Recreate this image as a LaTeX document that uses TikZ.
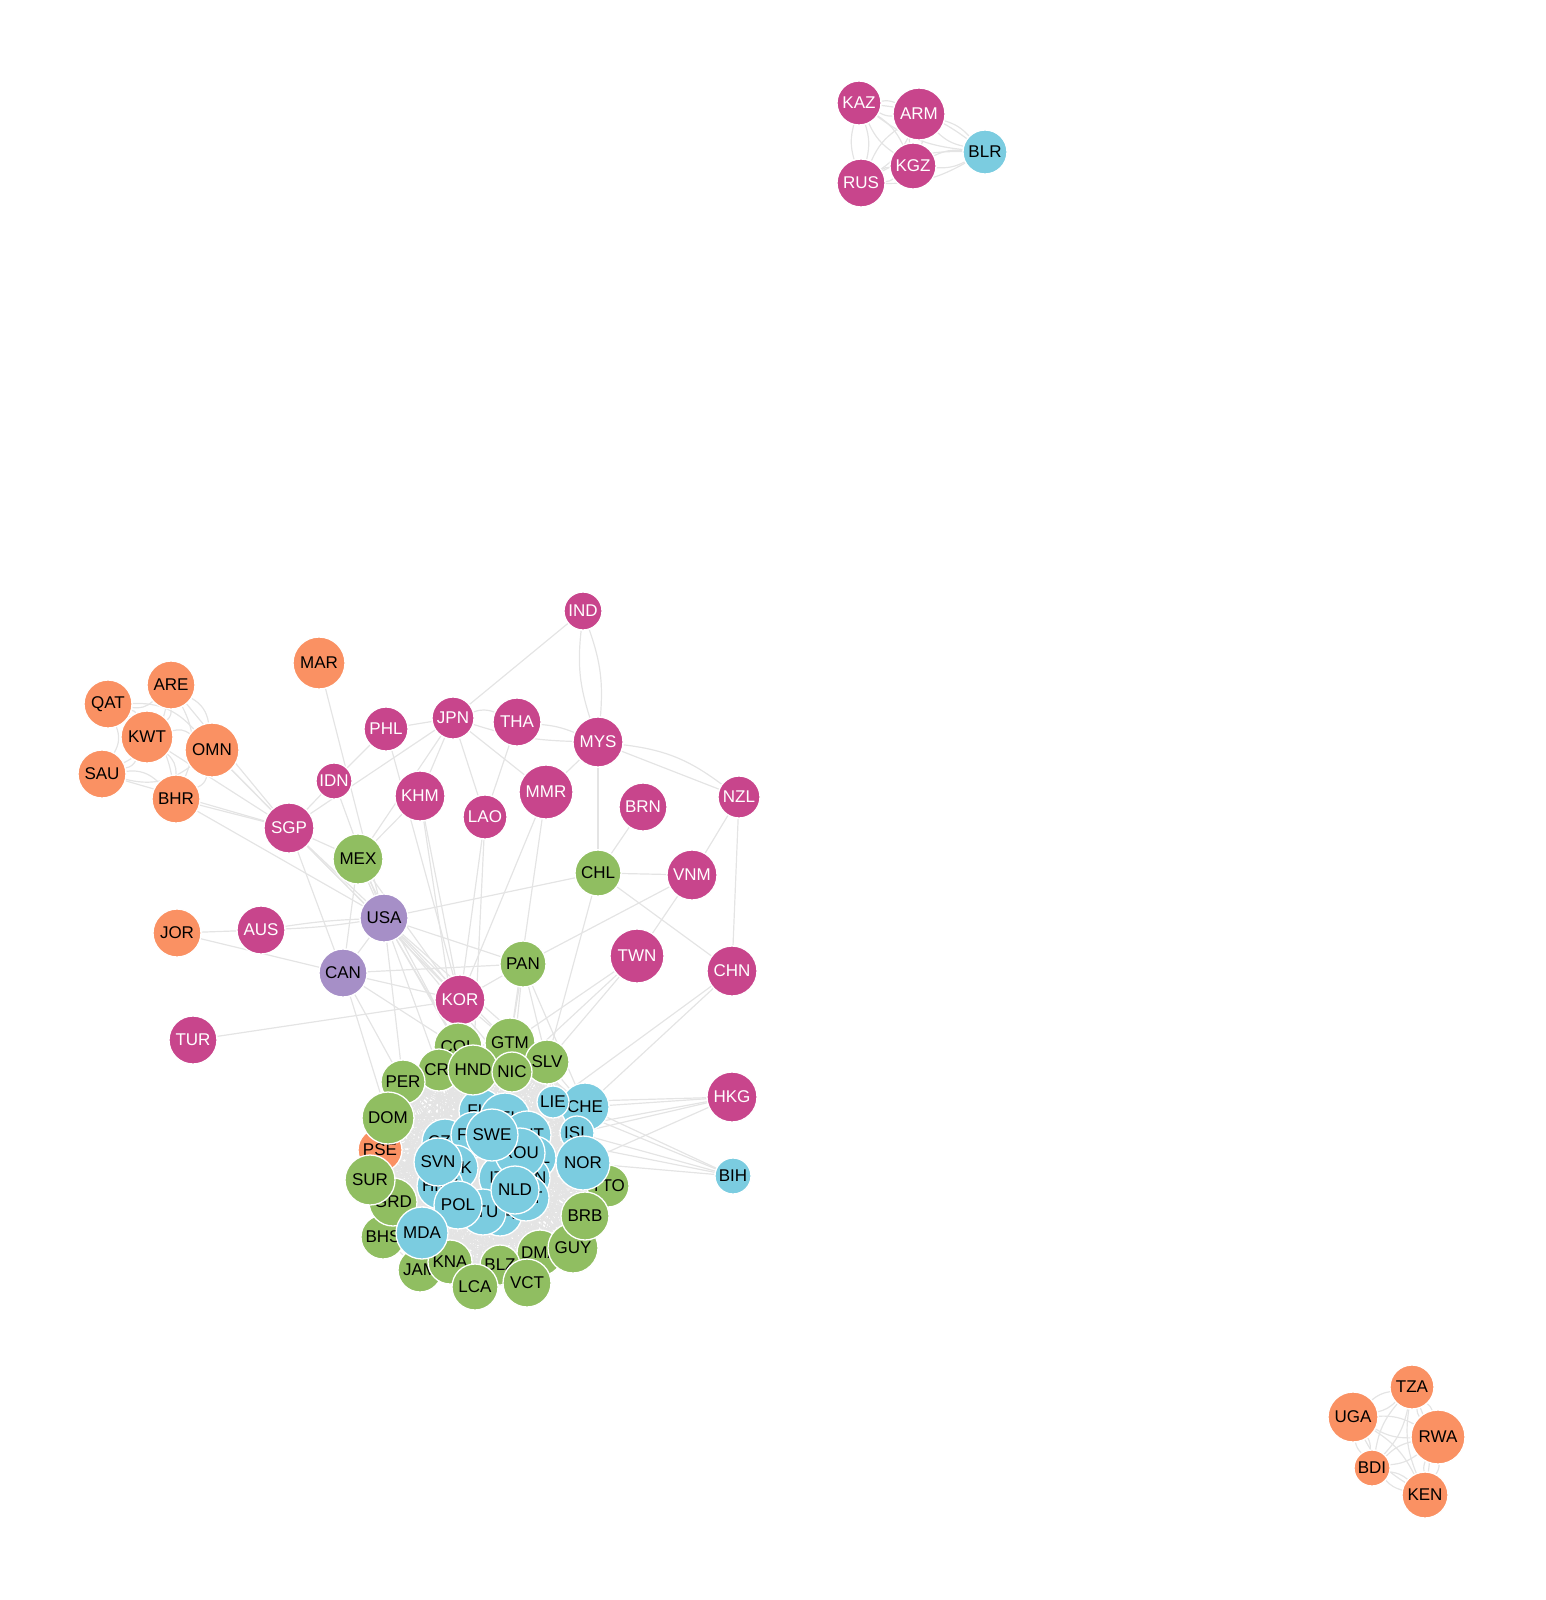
\documentclass[tikz,border=0pt]{standalone}
\usepackage{fontspec}
\setmainfont{Liberation Sans}
\usepackage{tikz}
\usetikzlibrary{backgrounds}
\usepackage{xcolor}
\definecolor{plum}{HTML}{C8458C}
\definecolor{peach}{HTML}{FA9163}
\definecolor{leaf}{HTML}{90BE61}
\definecolor{sky}{HTML}{7BCCE0}
\definecolor{lilac}{HTML}{A68FC7}
\definecolor{wire}{HTML}{E4E4E4}

\begin{document}
\begin{tikzpicture}[x=1pt, y=-1pt,
    cty/.style={circle, draw=white, line width=1.3pt, inner sep=0pt, minimum size=#1pt, font=\fontsize{17}{17}\selectfont},
    mag/.style={cty=#1, fill=plum, text=white},
    org/.style={cty=#1, fill=peach, text=black},
    grn/.style={cty=#1, fill=leaf, text=black},
    blu/.style={cty=#1, fill=sky, text=black},
    pur/.style={cty=#1, fill=lilac, text=black},
    link/.style={draw=wire, line width=1.2pt}]
\useasboundingbox (0,0) rectangle (1545,1600);

% north cluster
\node[mag=44] (KAZ) at (859,103) {KAZ};
\node[mag=52] (ARM) at (919,114) {ARM};
\node[mag=46] (KGZ) at (913,166) {KGZ};
\node[mag=48] (RUS) at (861,183) {RUS};
\node[blu=44] (BLR) at (985,152) {BLR};

% east africa
\node[org=44] (TZA) at (1412,1387) {TZA};
\node[org=50] (UGA) at (1353,1417) {UGA};
\node[org=54] (RWA) at (1438,1437) {RWA};
\node[org=36] (BDI) at (1372,1468) {BDI};
\node[org=46] (KEN) at (1425,1495) {KEN};

% gulf
\node[org=48] (ARE) at (171,685) {ARE};
\node[org=48] (QAT) at (108,704) {QAT};
\node[org=52] (KWT) at (147,737) {KWT};
\node[org=54] (OMN) at (212,750) {OMN};
\node[org=48] (SAU) at (102,774) {SAU};
\node[org=48] (BHR) at (176,799) {BHR};
\node[org=52] (MAR) at (319,663) {MAR};
\node[org=48] (JOR) at (177,933) {JOR};

% asia pacific
\node[mag=38] (IND) at (583,611) {IND};
\node[mag=42] (JPN) at (453,718) {JPN};
\node[mag=48] (THA) at (517,722) {THA};
\node[mag=50] (MYS) at (598,742) {MYS};
\node[mag=44] (PHL) at (386,729) {PHL};
\node[mag=36] (IDN) at (334,781) {IDN};
\node[mag=50] (KHM) at (420,796) {KHM};
\node[mag=44] (LAO) at (485,817) {LAO};
\node[mag=54] (MMR) at (546,792) {MMR};
\node[mag=48] (BRN) at (643,807) {BRN};
\node[mag=42] (NZL) at (739,797) {NZL};
\node[mag=50] (SGP) at (289,828) {SGP};
\node[mag=50] (VNM) at (692,875) {VNM};
\node[mag=48] (AUS) at (261,930) {AUS};
\node[mag=54] (TWN) at (637,956) {TWN};
\node[mag=50] (CHN) at (732,971) {CHN};
\node[mag=48] (TUR) at (193,1040) {TUR};
\node[mag=50] (HKG) at (732,1097) {HKG};
\node[blu=36] (BIH) at (733,1176) {BIH};

% americas
\node[grn=50] (MEX) at (358,859) {MEX};
\node[grn=46] (CHL) at (598,873) {CHL};
\node[grn=46] (PAN) at (523,964) {PAN};
\node[pur=48] (USA) at (384,918) {USA};
\node[pur=48] (CAN) at (343,973) {CAN};
\node[mag=50] (KOR) at (460,1000) {KOR};

% core, hidden ones first
\node[blu=44] (FIN) at (481,1111) {FIN};
\node[blu=50] (DEU) at (505,1118) {DEU};
\node[blu=48] (AUT) at (527,1135) {AUT};
\node[blu=46] (CZE) at (445,1142) {CZE};
\node[blu=46] (FRA) at (474,1135) {FRA};
\node[blu=44] (BEL) at (534,1158) {BEL};
\node[blu=44] (HUN) at (528,1178) {HUN};
\node[blu=44] (LVA) at (500,1214) {LVA};
\node[blu=46] (EST) at (526,1198) {EST};
\node[blu=46] (ITA) at (502,1178) {ITA};
\node[blu=46] (SVK) at (455,1168) {SVK};
\node[blu=46] (HRV) at (440,1186) {HRV};
\node[blu=46] (LTU) at (483,1212) {LTU};

\node[grn=50] (GTM) at (510,1043) {GTM};
\node[grn=44] (SLV) at (547,1062) {SLV};
\node[grn=48] (COL) at (458,1047) {COL};
\node[grn=42] (CRI) at (439,1070) {CRI};
\node[grn=50] (HND) at (473,1070) {HND};
\node[grn=40] (NIC) at (512,1072) {NIC};
\node[grn=44] (PER) at (403,1082) {PER};
\node[org=44] (PSE) at (380,1150) {PSE};
\node[grn=52] (DOM) at (388,1118) {DOM};
\node[grn=42] (TTO) at (608,1186) {TTO};
\node[grn=46] (DMA) at (540,1253) {DMA};
\node[grn=40] (BLZ) at (500,1265) {BLZ};
\node[grn=44] (JAM) at (420,1270) {JAM};
\node[grn=44] (BHS) at (383,1237) {BHS};
\node[grn=48] (GRD) at (393,1202) {GRD};
\node[grn=50] (SUR) at (370,1180) {SUR};
\node[grn=44] (KNA) at (450,1262) {KNA};
\node[grn=46] (LCA) at (475,1287) {LCA};
\node[grn=48] (VCT) at (527,1283) {VCT};
\node[grn=50] (GUY) at (573,1248) {GUY};
\node[grn=48] (BRB) at (585,1216) {BRB};

\node[blu=50] (ROU) at (520,1153) {ROU};
\node[blu=52] (SWE) at (492,1135) {SWE};
\node[blu=48] (NLD) at (515,1190) {NLD};
\node[blu=48] (SVN) at (438,1162) {SVN};
\node[blu=48] (POL) at (458,1205) {POL};
\node[blu=52] (MDA) at (422,1233) {MDA};
\node[blu=48] (CHE) at (585,1107) {CHE};
\node[blu=32] (LIE) at (553,1102) {LIE};
\node[blu=34] (ISL) at (577,1133) {ISL};
\node[blu=54] (NOR) at (583,1163) {NOR};

\begin{scope}[on background layer]
% small cliques, curved
\foreach \a/\b in {KAZ/ARM,KAZ/KGZ,KAZ/RUS,KAZ/BLR,ARM/KGZ,ARM/RUS,ARM/BLR,KGZ/RUS,KGZ/BLR,RUS/BLR,
                   TZA/UGA,TZA/RWA,TZA/BDI,TZA/KEN,UGA/RWA,UGA/BDI,UGA/KEN,RWA/BDI,RWA/KEN,BDI/KEN}
  {\draw[link] (\a) to[bend left=15] (\b); \draw[link] (\a) to[bend right=15] (\b);}
\foreach \a/\b in {ARE/QAT,ARE/KWT,ARE/OMN,ARE/SAU,ARE/BHR,QAT/KWT,QAT/OMN,QAT/SAU,QAT/BHR,
                   KWT/OMN,KWT/SAU,KWT/BHR,OMN/SAU,OMN/BHR,SAU/BHR}
  \draw[link] (\a) to[bend left=25] (\b);
% curved ties
\draw[link] (IND) to[bend left=12] (MYS);
\draw[link] (IND) to[bend right=12] (MYS);
\draw[link] (JPN) to[bend left=20] (THA);
\draw[link] (JPN) to[bend right=8] (MYS);
\draw[link] (THA) to[bend left=8] (MYS);
\draw[link] (MYS) to[bend left=15] (NZL);
\draw[link] (MYS) -- (NZL);
\draw[link] (AUS) to[bend left=3] (USA);
\draw[link] (AUS) to[bend right=3] (USA);
% straight ties
\foreach \a/\b in {BHR/SGP,OMN/SGP,KWT/SGP,SAU/SGP,ARE/SGP,BHR/USA,OMN/KOR,
                   MAR/USA,IND/JPN,JPN/PHL,IDN/PHL,IDN/SGP,SGP/JPN,IDN/USA,PHL/KOR,
                   JPN/KHM,JPN/LAO,JPN/MMR,JPN/MEX,THA/LAO,MMR/MYS,MYS/CHL,BRN/CHL,
                   NZL/VNM,NZL/CHN,CHL/VNM,CHL/CHN,CHL/USA,CHL/SLV,VNM/TWN,VNM/PAN,
                   TWN/GTM,TWN/SLV,TWN/NIC,CHN/CHE,CHN/LIE,HKG/CHE,HKG/LIE,HKG/NOR,
                   HKG/ISL,HKG/AUT,BIH/CHE,BIH/NOR,BIH/ISL,BIH/LIE,BIH/AUT,
                   KHM/MEX,KHM/KOR,KHM/COL,LAO/KOR,LAO/HND,MMR/KOR,MMR/GTM,KOR/TUR,
                   JOR/AUS,JOR/CAN,USA/MEX,USA/CAN,USA/KOR,USA/PAN,USA/SGP,USA/COL,
                   USA/PER,USA/GTM,USA/HND,USA/SLV,USA/CRI,USA/NIC,CAN/KOR,CAN/PAN,
                   CAN/PER,CAN/COL,CAN/DOM,CAN/SGP,CAN/MEX,MEX/KOR,MEX/COL,SGP/KOR,
                   SGP/MEX,PAN/KOR,PAN/SLV,PAN/NIC,PAN/GTM,PAN/CHE,KOR/CHE,KOR/SWE}
  \draw[link] (\a) -- (\b);
% dense core
\def\core{COL,GTM,SLV,CRI,HND,NIC,PER,DOM,PSE,SUR,GRD,BHS,JAM,KNA,LCA,BLZ,DMA,VCT,GUY,BRB,TTO,
          NOR,ISL,CHE,LIE,SWE,SVN,POL,NLD,ROU,MDA,DEU,FIN,AUT,CZE,FRA,BEL,HUN,EST,LVA,ITA,SVK,HRV,LTU}
\foreach \a [count=\i] in \core {
  \foreach \b [count=\j] in \core {
    \ifnum\j>\i \draw[link] (\a) -- (\b); \fi
  }
}
\end{scope}
\end{tikzpicture}
\end{document}
